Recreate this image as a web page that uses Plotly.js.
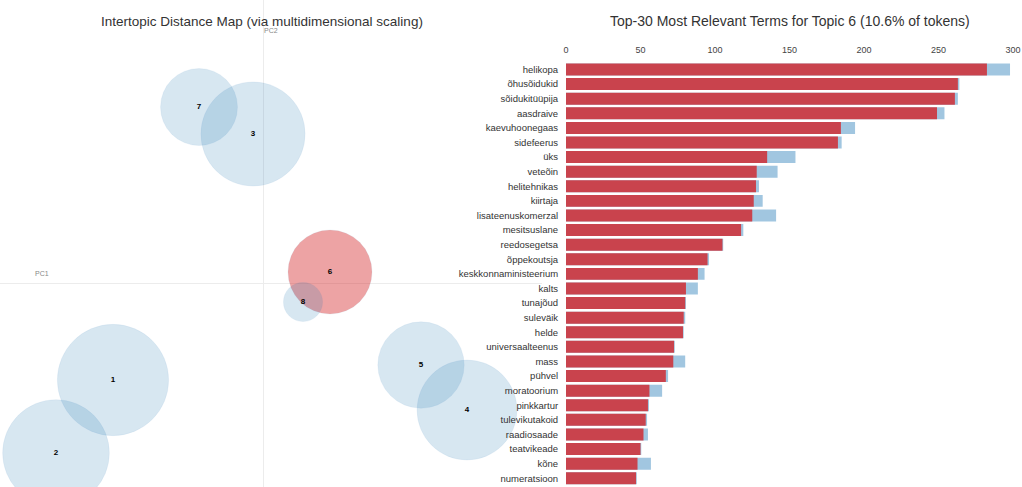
<!DOCTYPE html>
<html>
<head>
<meta charset="utf-8">
<script src="https://cdn.plot.ly/plotly-3.0.1.min.js"></script>
<style>html,body{margin:0;padding:0;background:#fff;}#chart{width:1022px;height:487px;}</style>
</head>
<body>
<div id="chart"></div>
<script>
// Intertopic distance map
const topicIds = ["1","2","3","4","5","6","7","8"];
const topicPC1 = [-0.150, -0.207, -0.010, 0.204, 0.158, 0.067, -0.064, 0.040];
const topicPC2 = [-0.097, -0.170, 0.149, -0.127, -0.082, 0.011, 0.176, -0.019];
const topicPct = [18.6, 17.1, 16.3, 15.0, 11.2, 10.6, 8.9, 2.3];
const selectedTopic = "6";

// Top-30 relevant terms for topic 6 (first 29 visible)
const terms = ["helikopa","õhusõidukid","sõidukitüüpija","aasdraive","kaevuhoonegaas","sidefeerus","üks",
  "veteõin","helitehnikas","kiirtaja","lisateenuskomerzal","mesitsuslane","reedosegetsa","õppekoutsja",
  "keskkonnaministeerium","kalts","tunajõud","suleväik","helde","universaalteenus","mass","pühvel",
  "moratoorium","pinkkartur","tulevikutakoid","raadiosaade","teatvikeade","kõne","numeratsioon"];
const termTotal = [298, 264, 263, 254, 194, 185, 154, 142, 129.5, 132, 141, 119, 105.5, 96, 93, 88.5, 80.5, 80, 79, 73, 80, 68.5, 64.5, 55.7, 54.4, 55, 50.5, 57, 47.5];
const termTopic = [282.5, 263, 261, 249, 184.5, 182.5, 135, 128, 127.5, 126, 125, 117.5, 105, 95, 88.5, 80.5, 80, 79, 78.5, 72.5, 72, 67, 56, 55, 53.5, 52, 50, 48, 47];
const barTicks = [0, 50, 100, 150, 200, 250, 300];

const sizeScale = 25.8;
const diam = topicPct.map(p => sizeScale * Math.sqrt(p));
const fills = topicIds.map(t => t === selectedTopic ? 'rgba(214,39,40,0.6)' : 'rgba(31,119,180,0.25)');

const map = {
  type: 'scatter', mode: 'markers+text', xaxis: 'x', yaxis: 'y',
  x: topicPC1, y: topicPC2, text: topicIds,
  textposition: 'middle center',
  textfont: {family: 'Liberation Sans, Arial, sans-serif', size: 8, color: '#000', weight: 'bold'},
  marker: {size: diam, sizemode: 'diameter', color: fills, line: {color: 'rgba(31,119,180,0.08)', width: 1}},
  hoverinfo: 'skip', showlegend: false
};
const totalBars = {
  type: 'bar', orientation: 'h', xaxis: 'x2', yaxis: 'y2',
  y: terms, x: termTotal, width: 0.82,
  marker: {color: 'rgba(31,119,180,0.42)', line: {width: 0}},
  hoverinfo: 'skip', showlegend: false
};
const topicBars = {
  type: 'bar', orientation: 'h', xaxis: 'x2', yaxis: 'y2',
  y: terms, x: termTopic, width: 0.82,
  marker: {color: 'rgba(208,44,50,0.85)', line: {width: 0}},
  hoverinfo: 'skip', showlegend: false
};

const W = 1022, H = 487;
const fnt = 'Liberation Sans, Arial, sans-serif';
const layout = {
  width: W, height: H, margin: {l: 0, r: 0, t: 0, b: 0},
  paper_bgcolor: '#fff', plot_bgcolor: 'rgba(0,0,0,0)',
  barmode: 'overlay', hovermode: false,
  font: {family: fnt, color: '#333'},
  xaxis: {domain: [0, 0.53], range: [-0.263, -0.263 + 0.53 * W / 1000], showgrid: false,
    zeroline: true, zerolinecolor: '#ececec', zerolinewidth: 1, showticklabels: false, ticks: '', fixedrange: true},
  yaxis: {domain: [0, 1], range: [-(H - 283) / 1000, 283 / 1000], showgrid: false,
    zeroline: true, zerolinecolor: '#ececec', zerolinewidth: 1, showticklabels: false, ticks: '', fixedrange: true},
  xaxis2: {domain: [566 / W, 1013 / W], range: [0, 300], anchor: 'y2', side: 'top',
    tickvals: barTicks, ticks: 'outside', ticklen: 5, tickcolor: 'rgba(0,0,0,0)',
    tickfont: {size: 9, color: '#444'}, showgrid: false, zeroline: false, showline: false},
  yaxis2: {domain: [0, (H - 62.2) / H], anchor: 'x2', type: 'category',
    range: [28.6, -0.5], ticks: 'outside', ticklen: 5, tickcolor: 'rgba(0,0,0,0)',
    tickfont: {size: 9.5, color: '#333'}, showgrid: false, zeroline: false, showline: false},
  annotations: [
    {text: 'Intertopic Distance Map (via multidimensional scaling)', xref: 'paper', yref: 'paper',
      x: 262 / W, y: 1 - 21 / H, xanchor: 'center', yanchor: 'middle', showarrow: false,
      font: {size: 13.5, color: '#333', family: fnt}},
    {text: 'Top-30 Most Relevant Terms for Topic 6 (10.6% of tokens)', xref: 'paper', yref: 'paper',
      x: 790 / W, y: 1 - 21 / H, xanchor: 'center', yanchor: 'middle', showarrow: false,
      font: {size: 14, color: '#333', family: fnt}},
    {text: 'PC1', xref: 'paper', yref: 'paper', x: 42 / W, y: 1 - 273 / H, xanchor: 'center', yanchor: 'middle',
      showarrow: false, font: {size: 7, color: '#888', family: fnt}},
    {text: 'PC2', xref: 'paper', yref: 'paper', x: 271 / W, y: 1 - 30 / H, xanchor: 'center', yanchor: 'middle',
      showarrow: false, font: {size: 7, color: '#888', family: fnt}}
  ]
};
Plotly.newPlot('chart', [map, totalBars, topicBars], layout, {displayModeBar: false, staticPlot: true});
</script>
</body>
</html>
